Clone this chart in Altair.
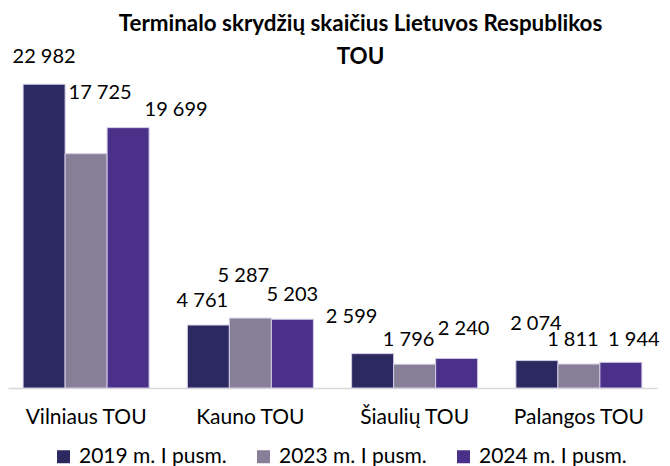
import altair as alt
import pandas as pd

# ---- data ----
airports = ["Vilniaus TOU", "Kauno TOU", "Šiaulių TOU", "Palangos TOU"]
series = ["2019 m. I pusm.", "2023 m. I pusm.", "2024 m. I pusm."]
v2019 = [22982, 4761, 2599, 2074]
v2023 = [17725, 5287, 1796, 1811]
v2024 = [19699, 5203, 2240, 1944]

title_lines = ["Terminalo skrydžių skaičius Lietuvos Respublikos", "TOU"]
colors = ["#2b2960", "#877e98", "#4b3089"]

rows = []
for s, vals in zip(series, [v2019, v2023, v2024]):
    for a, v in zip(airports, vals):
        rows.append({"airport": a, "series": s, "value": v,
                     "label": f"{v:,}".replace(",", " ")})
df = pd.DataFrame(rows)

# label nudges (px) as in the original, keyed by (airport idx, series idx)
nudges = {
    (0, 0): (0, -27), (0, 1): (14, -61), (0, 2): (48, -18),
    (1, 0): (-6, -24), (1, 1): (-7, -42), (1, 2): (0, -24),
    (2, 0): (-21, -37), (2, 1): (-6, -24), (2, 2): (7, -29),
    (3, 0): (-1, -37), (3, 1): (-6, -24), (3, 2): (13, -22),
}

FONT = "Lato"
base = alt.Chart(df)

x_enc = alt.X("airport:N", sort=airports, title=None,
              scale=alt.Scale(paddingInner=0.233, paddingOuter=0.092),
              axis=alt.Axis(labelAngle=0, ticks=False, grid=False,
                            domainColor="#d9d9d9", domainWidth=1.5,
                            labelFont=FONT, labelFontSize=21, labelColor="#000000",
                            labelBaseline="alphabetic", labelPadding=35))
xo_enc = alt.XOffset("series:N", sort=series,
                     scale=alt.Scale(paddingInner=0, paddingOuter=0))
y_enc = alt.Y("value:Q", scale=alt.Scale(domain=[0, 23000], nice=False), axis=None)

bars = base.mark_bar(stroke="#d4cde6", strokeWidth=1).encode(
    x=x_enc,
    xOffset=xo_enc,
    y=y_enc,
    color=alt.Color("series:N", sort=series,
                    scale=alt.Scale(domain=series, range=colors),
                    legend=alt.Legend(title=None, orient="none", direction="horizontal",
                                      legendX=45, legendY=362,
                                      symbolType="square", symbolSize=169,
                                      symbolStrokeWidth=0, symbolOpacity=1,
                                      labelFont=FONT, labelFontSize=21,
                                      labelColor="#000000", labelOffset=5,
                                      columnPadding=26)),
)

layers = [bars]
for (ai, si), (dx, dy) in nudges.items():
    t = base.transform_filter(
        (alt.datum.airport == airports[ai]) & (alt.datum.series == series[si])
    ).mark_text(font=FONT, fontSize=20, color="#000000", baseline="middle",
                align="center", dx=dx, dy=dy).encode(
        x=alt.X("airport:N", sort=airports),
        xOffset=alt.XOffset("series:N", sort=series),
        y=alt.Y("value:Q"),
        text="label:N",
    )
    layers.append(t)

chart = alt.layer(*layers).properties(
    width=649,
    height=304,
    autosize=alt.AutoSizeParams(type="none"),
    padding={"left": 0, "top": 76, "right": 5, "bottom": 78},
    background="white",
    title=alt.TitleParams(text=title_lines, font=FONT, fontSize=22.4, fontWeight="bold",
                          color="#000000", lineHeight=33, anchor="middle",
                          dx=28, dy=39, offset=18),
).configure_view(stroke=None)

chart.save("out.html", embed_options={"renderer": "svg", "actions": False})
